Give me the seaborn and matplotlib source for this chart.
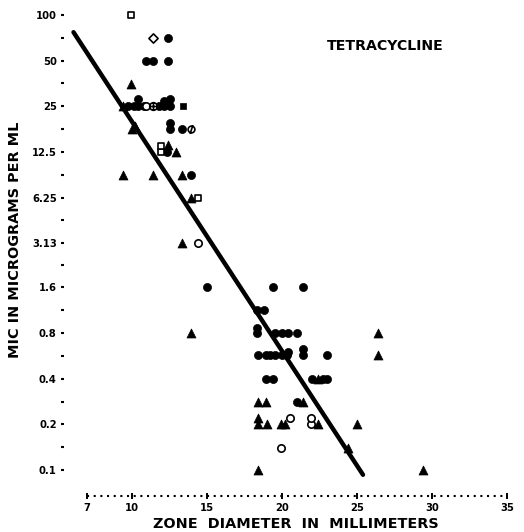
import numpy as np
import pandas as pd
import matplotlib
matplotlib.use("Agg")
import matplotlib.pyplot as plt
from matplotlib.path import Path
from matplotlib.ticker import FixedLocator, FixedFormatter, NullFormatter
import seaborn as sns

# Zone diameter (mm) and MIC (micrograms per ml), one pair of lists per plotting symbol
filled_circle_zone = [12.4, 10.9, 11.4, 12.4,
                      9.7, 10.1, 10.4, 10.4, 10.8, 11.8, 12.1, 12.1, 12.5, 12.5,
                      12.5, 12.5, 13.3, 12.3, 13.9,
                      15.0, 19.4, 21.4, 18.3, 18.8,
                      18.3, 18.3, 19.5, 20.0, 20.4, 21.0,
                      18.4, 18.9, 19.2, 19.5, 20.0, 20.3, 20.4, 21.4, 21.4, 23.0,
                      18.9, 19.4, 22.0, 22.7, 23.0, 21.0]
filled_circle_mic = [70, 50, 50, 50,
                     25, 25, 25, 28, 25, 25, 25, 27, 25, 28,
                     17.7, 19.5, 17.7, 12.5, 8.8,
                     1.6, 1.6, 1.6, 1.13, 1.13,
                     0.8, 0.87, 0.8, 0.8, 0.8, 0.8,
                     0.57, 0.57, 0.57, 0.57, 0.57, 0.57, 0.6, 0.57, 0.63, 0.57,
                     0.4, 0.4, 0.4, 0.4, 0.4, 0.28]

triangle_zone = [9.9, 9.4, 10.0, 10.2, 12.4, 12.9, 9.4, 11.4, 13.3, 13.9, 13.3,
                 13.9, 26.4, 26.4, 22.4, 18.4, 18.9, 21.4,
                 18.4, 18.4, 19.0, 19.9, 20.2, 22.4, 25.0, 24.4, 18.4, 29.4]
triangle_mic = [35, 25, 17.7, 18.5, 13.9, 12.5, 8.8, 8.8, 8.8, 6.25, 3.13,
                0.8, 0.8, 0.57, 0.4, 0.28, 0.28, 0.28,
                0.2, 0.22, 0.2, 0.2, 0.2, 0.2, 0.2, 0.14, 0.1, 0.1]

filled_square_zone = [13.4]
filled_square_mic = [25]

open_square_zone = [9.9, 11.9, 11.9, 14.4]
open_square_mic = [100, 12.5, 13.6, 6.25]

open_circle_zone = [10.9, 14.4, 20.5, 21.9, 21.9, 19.9]
open_circle_mic = [25, 3.13, 0.22, 0.2, 0.22, 0.14]

open_diamond_zone = [11.4]
open_diamond_mic = [70]

circled_plus_zone = [11.4]
circled_plus_mic = [25]

slashed_circle_zone = [13.9]
slashed_circle_mic = [17.7]

# Regression line end points
fit_zone = [6.1, 25.4]
fit_mic = [77, 0.093]

# Axis ticks
mic_ticks = [100, 50, 25, 12.5, 6.25, 3.13, 1.6, 0.8, 0.4, 0.2, 0.1]
mic_tick_labels = ["100", "50", "25", "12.5", "6.25", "3.13", "1.6", "0.8", "0.4", "0.2", "0.1"]
zone_ticks = [7, 10, 15, 20, 25, 30, 35]

sns.set_style("white")
plt.rcParams["font.family"] = ["DejaVu Sans"]
plt.rcParams["font.weight"] = "bold"
for key in ("text.color", "axes.labelcolor", "xtick.color", "ytick.color"):
    plt.rcParams[key] = "black"

W, H = 524, 532
fig = plt.figure(figsize=(W / 100, H / 100), dpi=100)
ax = fig.add_axes([64 / W, (H - 496) / H, (515 - 64) / W, (496 - 8) / H])
ax.set_yscale("log", base=2)

def circle_with(*segments):
    parts = [Path.unit_circle()]
    for seg in segments:
        parts.append(Path(seg, [Path.MOVETO, Path.LINETO]))
    return Path.make_compound_path(*parts)

circled_plus = circle_with([(-1, 0), (1, 0)], [(0, -1), (0, 1)])
slashed_circle = circle_with([(-0.4, -1.3), (0.4, 1.3)])

groups = [
    ("filled circle", filled_circle_zone, filled_circle_mic, "o", True, 34),
    ("triangle", triangle_zone, triangle_mic, "^", True, 42),
    ("filled square", filled_square_zone, filled_square_mic, "s", True, 24),
    ("open square", open_square_zone, open_square_mic, "s", False, 20),
    ("open circle", open_circle_zone, open_circle_mic, "o", False, 28),
    ("open diamond", open_diamond_zone, open_diamond_mic, "D", False, 22),
    ("circled plus", circled_plus_zone, circled_plus_mic, circled_plus, False, 30),
    ("slashed circle", slashed_circle_zone, slashed_circle_mic, slashed_circle, False, 40),
]

frames = []
for name, z, m, *_ in groups:
    frames.append(pd.DataFrame({"zone": z, "mic": m, "symbol": name}))
data = pd.concat(frames, ignore_index=True)

for name, _, _, marker, filled, size in groups:
    sub = data[data["symbol"] == name]
    if filled:
        sns.scatterplot(data=sub, x="zone", y="mic", ax=ax, marker=marker, s=size,
                        color="black", edgecolor="black", linewidth=0.5, zorder=3)
    else:
        sns.scatterplot(data=sub, x="zone", y="mic", ax=ax, marker=marker, s=size,
                        color="black", facecolor="white", edgecolor="black",
                        linewidth=1.2, zorder=3)

fit = pd.DataFrame({"zone": fit_zone, "mic": fit_mic})
sns.lineplot(data=fit, x="zone", y="mic", ax=ax, color="black", linewidth=3.2,
             solid_capstyle="round", zorder=4)

# Axis limits: 15 px per mm, about 45.7 px per doubling dilution
ax.set_xlim(5.4667, 35.533)
ax.set_ylim(0.0674, 111.2)

ax.yaxis.set_major_locator(FixedLocator(mic_ticks))
ax.yaxis.set_major_formatter(FixedFormatter(mic_tick_labels))
half_steps = list(np.sqrt(np.array(mic_ticks[:-1]) * np.array(mic_ticks[1:])))
ax.yaxis.set_minor_locator(FixedLocator(half_steps))
ax.yaxis.set_minor_formatter(NullFormatter())
ax.tick_params(axis="y", which="both", direction="out", length=2.3, width=1.5,
               pad=3, labelsize=7.2, color="black", left=True)

ax.xaxis.set_major_locator(FixedLocator(zone_ticks))
ax.xaxis.set_minor_locator(FixedLocator([]))
ax.tick_params(axis="x", which="major", direction="inout", length=4.6, width=1.4,
               pad=2.5, labelsize=7.2, color="black", bottom=True)

for side in ("top", "right", "left"):
    ax.spines[side].set_visible(False)
bottom = ax.spines["bottom"]
bottom.set_bounds(7, 35)
bottom.set_linewidth(1.5)
bottom.set_linestyle((0, (1, 2.2)))
bottom.set_capstyle("butt")
bottom.set_color("black")

ax.set_xlabel("ZONE  DIAMETER  IN  MILLIMETERS", fontsize=10.4, fontweight="bold")
ax.xaxis.set_label_coords((295.5 - 64) / 451, -(528 - 496) / 488)
ax.xaxis.label.set_va("baseline")
ax.set_ylabel("MIC IN MICROGRAMS PER ML", fontsize=10.4, fontweight="bold")
ax.yaxis.set_label_coords((15 - 64) / 451, (496 - 240) / 488)
ax.yaxis.label.set_va("center")

fig.text(385.5 / W, 1 - 50 / H, "TETRACYCLINE", ha="center", va="baseline",
         fontsize=10.2, fontweight="bold")

fig.savefig("out.png", dpi=100)
